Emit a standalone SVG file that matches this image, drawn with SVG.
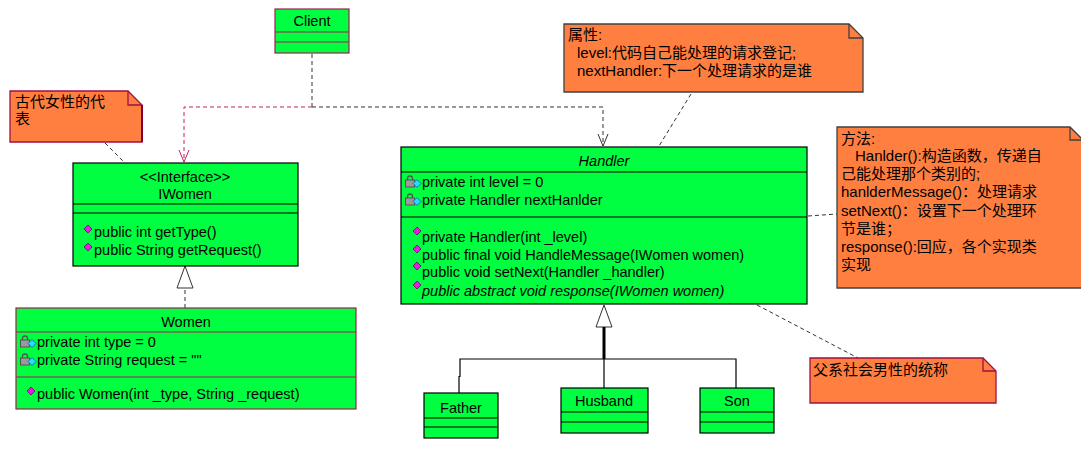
<svg xmlns="http://www.w3.org/2000/svg" width="1081" height="450" viewBox="0 0 1081 450">
<style>
text{font-family:"Liberation Sans","Noto Sans CJK SC",sans-serif;font-size:14.5px;fill:#000}
.cn{font-size:15px}
.cls{fill:#00FF40;stroke:#000;stroke-width:1.2}
.clsr{fill:#00FF40;stroke:#A02050;stroke-width:1.2}
.ln{stroke:#000;stroke-width:1.2;fill:none}
.lnr{stroke:#A02050;stroke-width:1.2;fill:none}
.note{fill:#FF7F40;stroke:#A01040;stroke-width:1.3}
.noteg{fill:#FF7F40;stroke:#404040;stroke-width:1.3}
.dash{stroke:#333;stroke-width:1;stroke-dasharray:4 3;fill:none}
.dashr{stroke:#C02060;stroke-width:1;stroke-dasharray:4 3;fill:none}
.it{font-style:italic}
.mid{text-anchor:middle}
</style>
<defs>
<g id="priv">
<path d="M2.5,5 V3.5 a2.5,2.5 0 0 1 5,0 V5" fill="none" stroke="#555" stroke-width="1.3"/>
<rect x="0.5" y="5" width="9" height="7" fill="#9a9a9a" stroke="#444" stroke-width="0.8"/>
<polygon points="8,8.5 12,4.5 16,8.5 12,12.5" fill="#30D8FF" stroke="#0060A0" stroke-width="0.8"/>
</g>
<polygon id="meth" points="0,4 4,0 8,4 4,8" fill="#E020E0" stroke="#700070" stroke-width="0.8"/>
</defs>

<g id="connectors">
<path class="dash" d="M312,54 V107"/>
<path class="dashr" d="M312,107 H184 V162"/>
<path d="M179,150 L184,162 L189,150" fill="none" stroke="#C02060" stroke-width="1"/>
<path class="dash" d="M312,107 H603 V146"/>
<path d="M598,134 L603,146 L608,134" fill="none" stroke="#333" stroke-width="1"/>
<path class="dash" d="M185,308 V288"/>
<polygon points="185,266 177,288 193,288" fill="#fff" stroke="#333" stroke-width="1"/>
<polygon points="604,305 596,327 612,327" fill="#fff" stroke="#333" stroke-width="1"/>
<path d="M604,327 V359" stroke="#000" stroke-width="3"/>
<path class="ln" d="M459,393 V376 M460,377 V359 H736 V388 M604,359 V388"/>
<path class="dash" d="M105,143 L125,163"/>
<path class="dash" d="M691,94 L659,146"/>
<path class="dash" d="M808,216 L837,214"/>
<path class="dash" d="M757,305 L858,358"/>
</g>

<g id="client">
<rect class="clsr" x="275" y="9" width="74" height="44"/>
<path class="lnr" d="M275,32 H349 M275,42 H349"/>
<text class="mid" x="312" y="26">Client</text>
</g>

<g id="iwomen">
<rect class="cls" x="73" y="163" width="225" height="103"/>
<path class="ln" d="M73,204 H298 M73,213 H298"/>
<text class="mid" x="185" y="182">&lt;&lt;Interface&gt;&gt;</text>
<text class="mid" x="185" y="199">IWomen</text>
<use href="#meth" x="84" y="225"/>
<text x="94" y="237">public int getType()</text>
<use href="#meth" x="84" y="243"/>
<text x="94" y="255">public String getRequest()</text>
</g>

<g id="women">
<rect class="clsr" x="16" y="308" width="340" height="101"/>
<path class="lnr" d="M16,332 H356 M16,377 H356"/>
<text class="mid" x="186" y="327">Women</text>
<use href="#priv" x="20" y="335"/>
<text x="37" y="347">private int type = 0</text>
<use href="#priv" x="20" y="353"/>
<text x="37" y="365">private String request = ""</text>
<use href="#meth" x="27" y="387"/>
<text x="37" y="399">public Women(int _type, String _request)</text>
</g>

<g id="handler">
<rect class="cls" x="401" y="147" width="406" height="157"/>
<path class="ln" d="M401,172 H807 M401,217 H807"/>
<text class="mid it" x="604" y="166">Handler</text>
<use href="#priv" x="405" y="175"/>
<text x="422" y="187">private int level = 0</text>
<use href="#priv" x="405" y="193"/>
<text x="422" y="205">private Handler nextHanlder</text>
<use href="#meth" x="413" y="227"/>
<text x="422" y="242">private Handler(int _level)</text>
<use href="#meth" x="413" y="245"/>
<text x="422" y="260">public final void HandleMessage(IWomen women)</text>
<use href="#meth" x="413" y="262"/>
<text x="422" y="277">public void setNext(Handler _handler)</text>
<use href="#meth" x="413" y="281"/>
<text class="it" x="422" y="296">public abstract void response(IWomen women)</text>
</g>

<g id="father">
<rect class="cls" x="424" y="393" width="74" height="45"/>
<path class="ln" d="M424,418 H498 M424,427 H498"/>
<text class="mid" x="461" y="413">Father</text>
</g>
<g id="husband">
<rect class="cls" x="561" y="388" width="87" height="45"/>
<path class="ln" d="M561,412 H648 M561,422 H648"/>
<text class="mid" x="604" y="406">Husband</text>
</g>
<g id="son">
<rect class="cls" x="700" y="388" width="74" height="45"/>
<path class="ln" d="M700,412 H774 M700,422 H774"/>
<text class="mid" x="737" y="406">Son</text>
</g>

<g id="note-women">
<path class="note" d="M10,91 H128 L142,105 V142 H10 Z"/>
<path d="M128,91 V105 H142" fill="none" stroke="#A01040" stroke-width="1.3"/>
<path d="M142,105 V142" stroke="#800030" stroke-width="2"/>
<text class="cn" x="15" y="107">古代女性的代</text>
<text class="cn" x="15" y="124">表</text>
</g>

<g id="note-attr">
<path class="noteg" d="M564,24 H849 L863,38 V92 H564 Z"/>
<path d="M849,24 V38 H863" fill="none" stroke="#404040" stroke-width="1.3"/>
<text class="cn" x="568" y="40">属性:</text>
<text class="cn" x="577" y="58">level:代码自己能处理的请求登记;</text>
<text class="cn" x="577" y="76">nextHandler:下一个处理请求的是谁</text>
</g>

<g id="note-method">
<path class="noteg" d="M837,127 H1070 L1083,140 V288 H837 Z"/>
<path d="M1070,127 V140 H1083" fill="none" stroke="#404040" stroke-width="1.3"/>
<text class="cn" x="841" y="144">方法:</text>
<text class="cn" x="855" y="161">Hanlder():构造函数，传递自</text>
<text class="cn" x="841" y="179">己能处理那个类别的;</text>
<text class="cn" x="841" y="197">hanlderMessage()：处理请求</text>
<text class="cn" x="841" y="216">setNext()：设置下一个处理环</text>
<text class="cn" x="841" y="234">节是谁；</text>
<text class="cn" x="841" y="252">response():回应，各个实现类</text>
<text class="cn" x="841" y="270">实现</text>
</g>

<g id="note-male">
<path class="note" d="M810,358 H983 L996,371 V403 H810 Z"/>
<path d="M983,358 V371 H996" fill="none" stroke="#A01040" stroke-width="1.3"/>
<text class="cn" x="813" y="375">父系社会男性的统称</text>
</g>
</svg>
